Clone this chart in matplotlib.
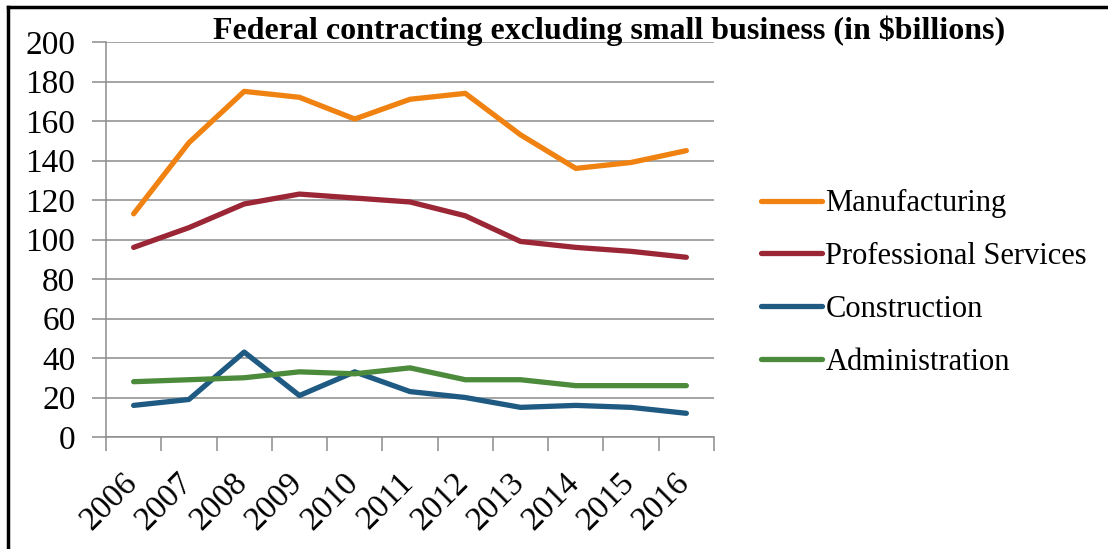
import numpy as np
import matplotlib
matplotlib.use("Agg")
import matplotlib.pyplot as plt
from matplotlib.lines import Line2D
from matplotlib.transforms import ScaledTranslation

plt.rcParams['font.family'] = ['Liberation Serif', 'DejaVu Serif']

## -----------------------------------------------
# data ($ billions)
## -----------------------------------------------
years = ['2006', '2007', '2008', '2009', '2010', '2011', '2012', '2013', '2014', '2015', '2016']
manufacturing = [113, 149, 175, 172, 161, 171, 174, 153, 136, 139, 145]
professional = [96, 106, 118, 123, 121, 119, 112, 99, 96, 94, 91]
construction = [16, 19, 43, 21, 33, 23, 20, 15, 16, 15, 12]
administration = [28, 29, 30, 33, 32, 35, 29, 29, 26, 26, 26]

series_names = ['Manufacturing', 'Professional Services', 'Construction', 'Administration']
colors = ['#F08212', '#9B2636', '#1E5A82', '#4C8A3C']

grid_col = '#8C8C8C'
line_w = 3.8

fig = plt.figure(figsize=(11.08, 5.49), dpi=100)
ax = fig.add_axes([106/1108, 1 - 437/549, (714-106)/1108, (437-42)/549])

x = np.arange(len(years))
for vals, name, c in zip([manufacturing, professional, construction, administration], series_names, colors):
    ax.plot(x, vals, color=c, lw=line_w, label=name, solid_capstyle='round', solid_joinstyle='round')

ax.set_xlim(-0.5, len(years) - 0.5)
ax.set_ylim(0, 200)
ax.set_yticks(np.arange(0, 201, 20))
ax.yaxis.grid(True, color=grid_col, lw=1.1)
ax.set_axisbelow(True)

# year labels at the centers, tick marks on category edges
ax.set_xticks(x)
ax.set_xticklabels(years, rotation=45, ha='right', va='top', rotation_mode='anchor')
ax.set_xticks(np.arange(-0.5, len(years)), minor=True)
ax.tick_params(axis='x', which='major', length=0, pad=22, labelsize=24)
ax.tick_params(axis='x', which='minor', length=10, width=1.1, color=grid_col, direction='out')
ax.tick_params(axis='y', length=10, width=1.1, color=grid_col, labelsize=24, pad=12)

shift = ScaledTranslation(-0.12, 0, fig.dpi_scale_trans)
for lbl in ax.get_xticklabels():
    lbl.set_transform(lbl.get_transform() + shift)

for s in ['top', 'right']:
    ax.spines[s].set_visible(False)
for s in ['left', 'bottom']:
    ax.spines[s].set_color(grid_col)
    ax.spines[s].set_linewidth(1.1)

fig.text(609/1108, 1 - 31/549, 'Federal contracting excluding small business (in $billions)',
         ha='center', va='center', fontsize=23, fontweight='bold')

handles = [Line2D([0], [0], color=c, lw=line_w, solid_capstyle='round') for c in colors]
fig.legend(handles, series_names, loc='center left', bbox_to_anchor=(746/1108, 1 - 283/549),
           frameon=False, fontsize=22, handlelength=2.0, handletextpad=0.1,
           labelspacing=0.78, borderpad=0)

# outer frame: left and top edges
fig.add_artist(Line2D([8/1108, 8/1108], [0, 1 - 7/549], transform=fig.transFigure, color='black', lw=2.5))
fig.add_artist(Line2D([8/1108, 1], [1 - 7/549, 1 - 7/549], transform=fig.transFigure, color='black', lw=2.5))

fig.savefig('out.png', dpi=100)
